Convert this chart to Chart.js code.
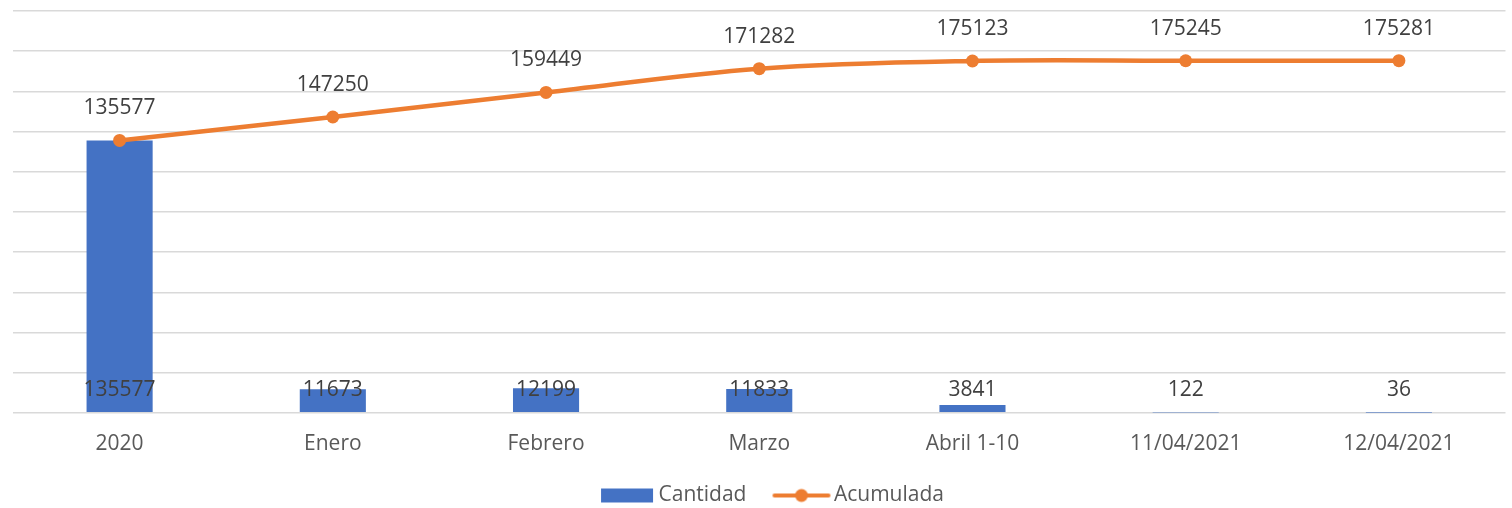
<!DOCTYPE html>
<html>
<head>
<meta charset="utf-8">
<script src="https://cdn.jsdelivr.net/npm/chart.js@4.4.1/dist/chart.umd.min.js"></script>
<style>
  html, body { margin: 0; padding: 0; background: #ffffff; }
  #wrap { width: 1512px; height: 508px; position: relative; }
</style>
</head>
<body>
<div id="wrap"><canvas id="c" width="1512" height="508"></canvas></div>
<script>
const categories = ["2020", "Enero", "Febrero", "Marzo", "Abril 1-10", "11/04/2021", "12/04/2021"];
const cantidad = [135577, 11673, 12199, 11833, 3841, 122, 36];
const acumulada = [135577, 147250, 159449, 171282, 175123, 175245, 175281];
const seriesNames = ["Cantidad", "Acumulada"];

const BLUE = "#4472C4";
const ORANGE = "#ED7D31";
const FONT = "'Open Sans', 'Noto Sans', sans-serif";

function makeBarIcon() {
  const c = document.createElement("canvas");
  c.width = 84; c.height = 16;
  const g = c.getContext("2d");
  g.fillStyle = BLUE;
  g.fillRect(29, 1, 52, 14);
  return c;
}
function makeLineIcon() {
  const c = document.createElement("canvas");
  c.width = 84; c.height = 16;
  const g = c.getContext("2d");
  g.strokeStyle = ORANGE;
  g.lineWidth = 4;
  g.lineCap = "round";
  g.beginPath(); g.moveTo(27, 8); g.lineTo(81, 8); g.stroke();
  g.fillStyle = ORANGE;
  g.beginPath(); g.arc(54, 8, 6.5, 0, Math.PI * 2); g.fill();
  return c;
}
const icons = [makeBarIcon(), makeLineIcon()];

const labelPlugin = {
  id: "valueLabels",
  afterDatasetsDraw(chart) {
    const ctx = chart.ctx;
    ctx.save();
    ctx.font = "21px " + FONT;
    ctx.fillStyle = "#404040";
    ctx.textAlign = "center";
    ctx.textBaseline = "middle";
    const yScale = chart.scales.y;
    const base = yScale.getPixelForValue(0);
    chart.getDatasetMeta(1).data.forEach((el, i) => {
      ctx.fillText(String(cantidad[i]), el.x, base - 23);
    });
    chart.getDatasetMeta(0).data.forEach((el, i) => {
      ctx.fillText(String(acumulada[i]), el.x, el.y - 32);
    });
    ctx.restore();
  }
};

new Chart(document.getElementById("c"), {
  data: {
    labels: categories,
    datasets: [
      {
        type: "line",
        label: seriesNames[1],
        data: acumulada,
        borderColor: ORANGE,
        backgroundColor: ORANGE,
        borderWidth: 4.5,
        pointRadius: 6.5,
        pointHoverRadius: 6.5,
        pointBackgroundColor: ORANGE,
        pointBorderWidth: 0,
        tension: 0.35,
        order: 0
      },
      {
        type: "bar",
        label: seriesNames[0],
        data: cantidad,
        backgroundColor: BLUE,
        barPercentage: 0.31,
        categoryPercentage: 1,
        order: 1
      }
    ]
  },
  options: {
    responsive: false,
    animation: false,
    devicePixelRatio: 1,
    layout: { padding: { left: 13, right: 1, top: 11, bottom: -8 } },
    plugins: {
      tooltip: { enabled: false },
      legend: {
        position: "bottom",
        labels: {
          font: { family: FONT, size: 21 },
          color: "#595959",
          usePointStyle: true,
          pointStyleWidth: 68,
          boxHeight: 16,
          padding: 9,
          generateLabels(chart) {
            return [
              { text: seriesNames[0], pointStyle: icons[0], fillStyle: BLUE, strokeStyle: BLUE, lineWidth: 0, hidden: false, datasetIndex: 1, fontColor: "#595959" },
              { text: seriesNames[1], pointStyle: icons[1], fillStyle: ORANGE, strokeStyle: ORANGE, lineWidth: 0, hidden: false, datasetIndex: 0, fontColor: "#595959" }
            ];
          }
        }
      }
    },
    scales: {
      x: {
        grid: { display: false, drawTicks: false },
        border: { display: false },
        ticks: { font: { family: FONT, size: 21 }, color: "#595959", padding: 19 }
      },
      y: {
        min: 0,
        max: 200000,
        ticks: { display: false, stepSize: 20000 },
        grid: { color: "#d9d9d9", lineWidth: 1.5, drawTicks: false },
        border: { display: false }
      }
    }
  },
  plugins: [labelPlugin]
});
</script>
</body>
</html>
